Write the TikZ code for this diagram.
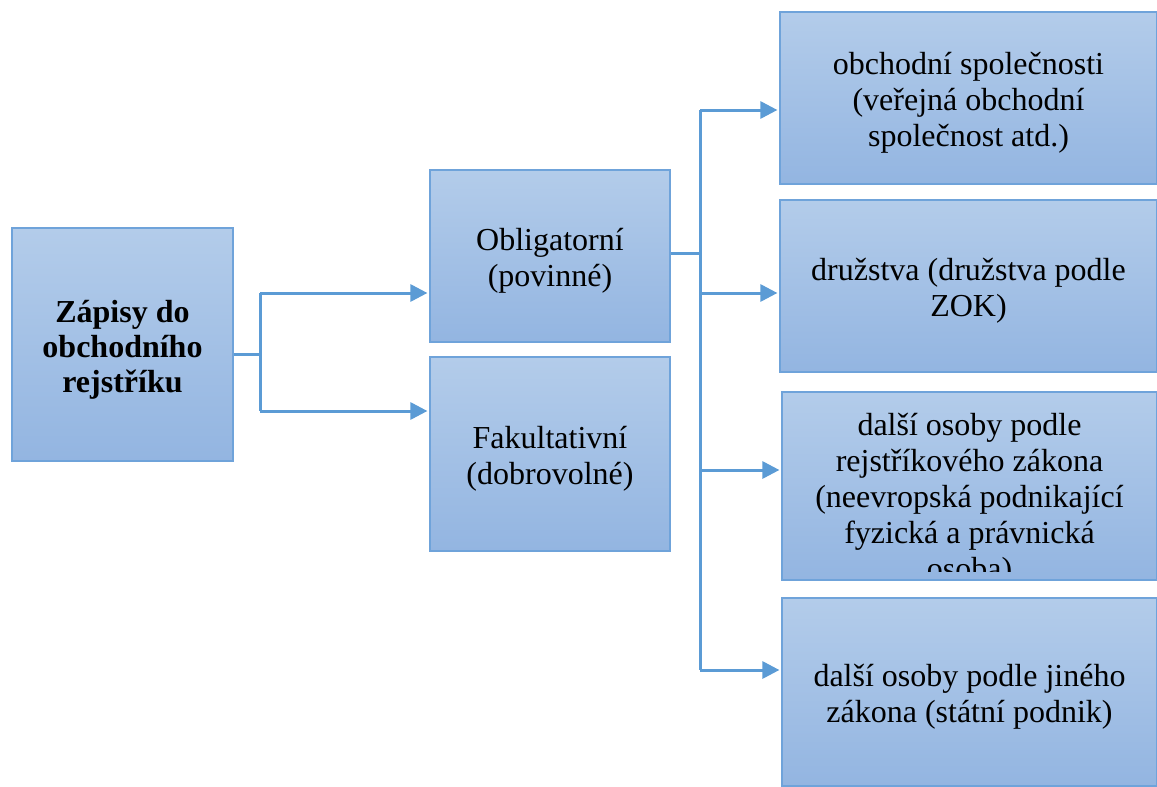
\documentclass[tikz,border=0pt]{standalone}
\usepackage{fontspec}
\setmainfont{Liberation Serif}
\usetikzlibrary{positioning,arrows.meta}

\definecolor{boxtop}{HTML}{B3CCEA}
\definecolor{boxbot}{HTML}{93B5E1}
\definecolor{boxline}{HTML}{6FA3DA}
\definecolor{linkblue}{HTML}{5B9BD5}

\tikzset{
  box/.style={draw=boxline, line width=1.2pt, top color=boxtop, bottom color=boxbot, inner sep=0pt},
  boxtext/.style={align=center, inner sep=0pt, yshift=-5pt, font=\rmfamily\fontsize{32}{36}\selectfont},
  link/.style={draw=linkblue, line width=3pt, -{Triangle[length=17pt,width=17pt]}, shorten >=2pt},
  stem/.style={draw=linkblue, line width=3pt}
}

\begin{document}
\begin{tikzpicture}[x=1pt,y=-1pt]
  \useasboundingbox (0,0) rectangle (1157,787);

 % left part
  \node[box, minimum width=221pt, minimum height=233pt] (zapisy) at (122.5,344.5) {};
  \node[boxtext, font=\rmfamily\fontsize{32}{35}\selectfont\bfseries] (zapisytext) at (zapisy.center)
     {Zápisy do\\obchodního\\rejstříku};

  \node[box, minimum width=240pt, minimum height=172pt] (oblig) at (550,256) {};
  \node[boxtext] (obligtext) at (oblig.center) {Obligatorní\\(povinné)};
  \node[box, minimum width=240pt, minimum height=194pt] (fakult) at (550,454) {};
  \node[boxtext] (fakulttext) at (fakult.center) {Fakultativní\\(dobrovolné)};

 % right column
  \node[box, minimum width=377pt, minimum height=172pt] (spol) at (968.5,98) {};
  \node[boxtext] (spoltext) at (spol.center)
     {obchodní společnosti\\(veřejná obchodní\\společnost atd.)};
  \node[box, minimum width=377pt, minimum height=172pt] (druz) at (968.5,286) {};
  \node[boxtext] (druztext) at (druz.center) {družstva (družstva podle\\ZOK)};
  \node[box, minimum width=375pt, minimum height=188pt] (rejst) at (969.5,486) {};
  \begin{scope}
    \clip ([yshift=9pt]rejst.south west) rectangle (rejst.north east); % text runs out of the box
    \node[boxtext, yshift=-9pt] (rejsttext) at (rejst.center)
       {další osoby podle\\rejstříkového zákona\\(neevropská podnikající\\fyzická a právnická\\osoba)};
  \end{scope}
  \node[box, minimum width=375pt, minimum height=188pt] (jiny) at (969.5,692) {};
  \node[boxtext] (jinytext) at (jiny.center) {další osoby podle jiného\\zákona (státní podnik)};

 % connectors, first fork
  \coordinate (fork1) at (260,354);
  \coordinate (fork1top) at (260,293);
  \coordinate (fork1bot) at (260,411);
  \draw[stem] (zapisy.east |- fork1) -- (fork1);
  \draw[stem] (fork1top) -- (fork1bot);
  \draw[link] (fork1top) -- (fork1top -| oblig.west);
  \draw[link] (fork1bot) -- (fork1bot -| fakult.west);

 % connectors, second fork
  \coordinate (fork2) at (700,253);
  \coordinate (fork2a) at (700,110);
  \coordinate (fork2b) at (700,293);
  \coordinate (fork2c) at (700,470);
  \coordinate (fork2d) at (700,670);
  \draw[stem] (oblig.east |- fork2) -- (fork2);
  \draw[stem] (fork2a) -- (fork2d);
  \draw[link] (fork2a) -- (fork2a -| spol.west);
  \draw[link] (fork2b) -- (fork2b -| druz.west);
  \draw[link] (fork2c) -- (fork2c -| rejst.west);
  \draw[link] (fork2d) -- (fork2d -| jiny.west);

\end{tikzpicture}
\end{document}
